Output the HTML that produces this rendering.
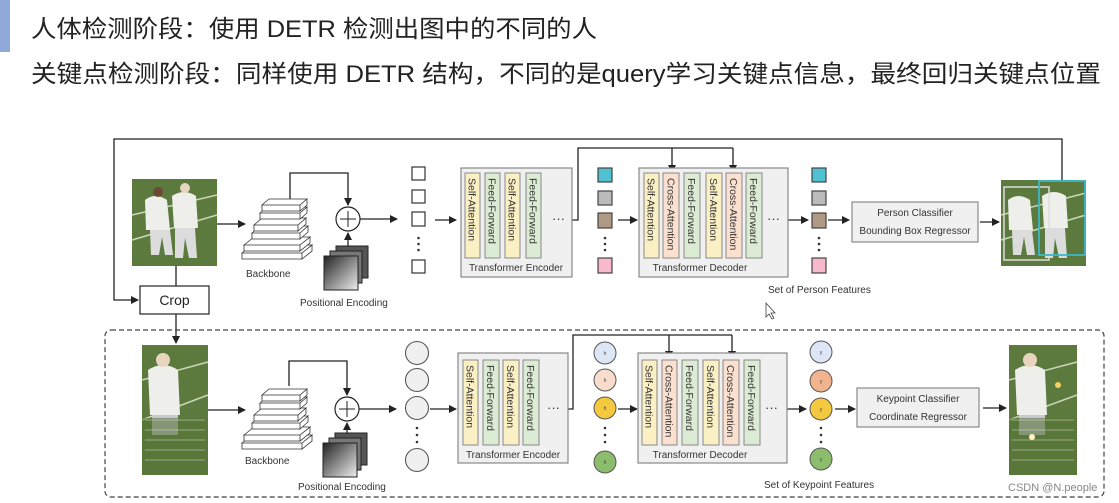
<!DOCTYPE html>
<html><head><meta charset="utf-8"><style>
html,body{margin:0;padding:0;background:#fff;}
svg{display:block;}
text{font-family:"Liberation Sans","Noto Sans CJK SC",sans-serif;}
.lb{font-size:10px;fill:#333;}
.bt{font-size:10.5px;fill:#333;}
</style></head><body>
<svg width="1119" height="503" viewBox="0 0 1119 503" xmlns="http://www.w3.org/2000/svg">
<defs>
<marker id="a" markerWidth="8" markerHeight="8" refX="7" refY="4" orient="auto" markerUnits="userSpaceOnUse"><path d="M0,0 L8,4 L0,8 z" fill="#222"/></marker>
<linearGradient id="pg" x1="0" y1="0" x2="1" y2="1"><stop offset="0" stop-color="#222"/><stop offset="1" stop-color="#eee"/></linearGradient>
<g id="bb">
<path d="M0,58 l10,-8 h60 l-10,8z M0,58 h60 v6 h-60z M60,58 l10,-8 v6 l-10,8z" fill="#fff" stroke="#333" stroke-width="0.8"/>
<path d="M2,50 l10,-8 h56 l-10,8z M2,50 h56 v6 h-56z M58,50 l10,-8 v6 l-10,8z" fill="#fff" stroke="#333" stroke-width="0.8"/>
<path d="M10,38 l8,-7 h48 l-8,7z M10,38 h48 v6 h-48z M58,38 l8,-7 v6 l-8,7z" fill="#fff" stroke="#333" stroke-width="0.8"/>
<path d="M12,30 l8,-7 h44 l-8,7z M12,30 h44 v6 h-44z M56,30 l8,-7 v6 l-8,7z" fill="#fff" stroke="#333" stroke-width="0.8"/>
<path d="M18,18 l7,-6 h40 l-7,6z M18,18 h40 v6 h-40z M58,18 l7,-6 v6 l-7,6z" fill="#fff" stroke="#333" stroke-width="0.8"/>
<path d="M20,10 l7,-6 h38 l-7,6z M20,10 h38 v6 h-38z M58,10 l7,-6 v6 l-7,6z" fill="#fff" stroke="#333" stroke-width="0.8"/>
</g>
<g id="pe">
<rect x="12" y="0" width="32" height="32" fill="#555" stroke="#222"/>
<rect x="6" y="5" width="32" height="32" fill="#777" stroke="#222"/>
<rect x="0" y="10" width="34" height="34" fill="url(#pg)" stroke="#222"/>
</g>
</defs>

<!-- header -->
<rect x="0" y="0" width="10" height="52" fill="#8fa9d8"/>
<text x="31" y="37" font-size="24" fill="#222" textLength="566" lengthAdjust="spacingAndGlyphs">人体检测阶段：使用 DETR 检测出图中的不同的人</text>
<text x="31" y="82" font-size="24" fill="#222" textLength="1070" lengthAdjust="spacingAndGlyphs">关键点检测阶段：同样使用 DETR 结构，不同的是query学习关键点信息，最终回归关键点位置</text>

<g stroke="#222" stroke-width="1.3" fill="none">
<!-- top outer loop -->
<polyline points="1062,180 1062,139 114,139 114,300 138,300" marker-end="url(#a)"/>
<line x1="176" y1="266" x2="176" y2="286"/>
<line x1="176" y1="314" x2="176" y2="343" marker-end="url(#a)"/>
<line x1="217" y1="224" x2="245" y2="224" marker-end="url(#a)"/>
<polyline points="290,200 290,173 348,173 348,205" marker-end="url(#a)"/>
<line x1="348" y1="246" x2="348" y2="233" marker-end="url(#a)"/>
<line x1="360" y1="219" x2="397" y2="219" marker-end="url(#a)"/>
<line x1="435" y1="220" x2="456" y2="220" marker-end="url(#a)"/>
<polyline points="572,220 578,220 578,148 733,148"/>
<line x1="672" y1="148" x2="672" y2="172" marker-end="url(#a)"/>
<line x1="733" y1="148" x2="733" y2="172" marker-end="url(#a)"/>
<line x1="618" y1="220" x2="637" y2="220" marker-end="url(#a)"/>
<line x1="788" y1="220" x2="808" y2="220" marker-end="url(#a)"/>
<line x1="828" y1="220" x2="849" y2="220" marker-end="url(#a)"/>
<line x1="980" y1="222" x2="999" y2="222" marker-end="url(#a)"/>
<!-- bottom -->
<line x1="207" y1="410" x2="245" y2="410" marker-end="url(#a)"/>
<polyline points="289,386 289,361 347,361 347,395" marker-end="url(#a)"/>
<line x1="347" y1="433" x2="347" y2="423" marker-end="url(#a)"/>
<line x1="358" y1="409" x2="396" y2="409" marker-end="url(#a)"/>
<line x1="430" y1="409" x2="456" y2="409" marker-end="url(#a)"/>
<polyline points="568,409 573,409 573,335 732,335"/>
<line x1="669" y1="335" x2="669" y2="358" marker-end="url(#a)"/>
<line x1="732" y1="335" x2="732" y2="358" marker-end="url(#a)"/>
<line x1="618" y1="409" x2="637" y2="409" marker-end="url(#a)"/>
<line x1="787" y1="409" x2="806" y2="409" marker-end="url(#a)"/>
<line x1="835" y1="409" x2="855" y2="409" marker-end="url(#a)"/>
<line x1="983" y1="408" x2="1006" y2="408" marker-end="url(#a)"/>
</g>

<!-- dashed box -->
<rect x="105" y="330" width="999" height="167" rx="6" fill="none" stroke="#444" stroke-width="1.2" stroke-dasharray="5,3"/>

<!-- crop -->
<rect x="140" y="286" width="69" height="28" fill="#fff" stroke="#222" stroke-width="1.2"/>
<text x="174.5" y="305" font-size="14" text-anchor="middle" fill="#222">Crop</text>

<!-- top image -->
<rect x="132" y="179" width="85" height="87" fill="#5c7a3e"/>
<path d="M132,215 L217,195 M132,240 L217,215" stroke="#c9d6b8" stroke-width="1.5"/>
<path d="M145,200 q10,-8 22,0 l3,30 h-24z M172,196 q12,-8 24,0 l2,32 h-24z" fill="#eeeeea"/>
<path d="M150,230 h20 l3,25 h-8 l-3,-18 -3,18 h-8z M175,228 h20 l2,30 h-8 l-4,-20 -2,20 h-8z" fill="#dcdcdc"/>
<circle cx="158" cy="192" r="5" fill="#6b4a35"/><circle cx="185" cy="188" r="5" fill="#e8d5c0"/>

<!-- top result image -->
<rect x="1001" y="180" width="85" height="86" fill="#5c7a3e"/>
<path d="M1001,215 L1086,193 M1001,240 L1086,215" stroke="#c9d6b8" stroke-width="1.5"/>
<path d="M1008,200 q10,-8 22,0 l3,30 h-24z M1042,196 q12,-8 24,0 l2,32 h-24z" fill="#eeeeea"/>
<path d="M1012,230 h20 l3,25 h-8 l-3,-18 -3,18 h-8z M1045,228 h20 l2,30 h-8 l-4,-20 -2,20 h-8z" fill="#dcdcdc"/>
<rect x="1004" y="187" width="45" height="73" fill="none" stroke="#ddd" stroke-width="1.5"/>
<rect x="1039" y="181" width="46" height="74" fill="none" stroke="#3bb8c8" stroke-width="1.8"/>

<!-- bottom image -->
<rect x="142" y="345" width="66" height="130" fill="#5c7a3e"/>
<path d="M142,380 L208,362 M142,420 L208,395" stroke="#c9d6b8" stroke-width="1.5"/>
<path d="M148,370 q15,-10 30,0 l2,45 h-30z" fill="#eeeeea"/>
<rect x="152" y="415" width="26" height="20" fill="#c8c8d0"/>
<circle cx="163" cy="360" r="7" fill="#e8d5c0"/>
<rect x="142" y="418" width="66" height="57" fill="#587538" opacity="0.6"/>
<path d="M145,420h60M145,430h60M145,440h60M145,450h60M145,460h60" stroke="#ddd" stroke-width="0.5"/>

<rect x="1009" y="345" width="68" height="130" fill="#5c7a3e"/>
<path d="M1009,380 L1077,362 M1009,420 L1077,395" stroke="#c9d6b8" stroke-width="1.5"/>
<path d="M1015,370 q15,-10 30,0 l2,45 h-30z" fill="#eeeeea"/>
<rect x="1019" y="415" width="26" height="20" fill="#c8c8d0"/>
<circle cx="1030" cy="360" r="7" fill="#e8d5c0"/>
<rect x="1009" y="418" width="68" height="57" fill="#587538" opacity="0.6"/>
<path d="M1012,420h62M1012,430h62M1012,440h62M1012,450h62M1012,460h62" stroke="#ddd" stroke-width="0.5"/>
<circle cx="1058" cy="385" r="3" fill="#f5d060"/><circle cx="1032" cy="437" r="3" fill="#fff6c0"/>

<!-- backbones / pe -->
<use href="#bb" x="242" y="195"/>
<use href="#bb" x="242" y="385"/>
<use href="#pe" x="324" y="246"/>
<use href="#pe" x="323" y="433"/>
<g fill="#fff" stroke="#222" stroke-width="1.2">
<circle cx="348" cy="219" r="12"/><circle cx="347" cy="409" r="12"/>
</g>
<path d="M340,219h16M348,211v16M339,409h16M347,401v16" stroke="#222" stroke-width="1"/>
<text x="246" y="277" class="lb">Backbone</text>
<text x="300" y="306" class="lb">Positional Encoding</text>
<text x="245" y="464" class="lb">Backbone</text>
<text x="298" y="490" class="lb">Positional Encoding</text>

<!-- top tokens -->
<g fill="#fff" stroke="#333" stroke-width="1.2">
<rect x="412" y="167" width="13" height="13"/><rect x="412" y="190" width="13" height="13"/><rect x="412" y="212" width="13" height="14"/><rect x="412" y="260" width="13" height="13"/>
</g>
<g fill="#333"><circle cx="418.5" cy="238" r="1.3"/><circle cx="418.5" cy="244" r="1.3"/><circle cx="418.5" cy="250" r="1.3"/></g>

<g stroke="#444" stroke-width="1.2">
<rect x="598" y="168" width="14" height="14" fill="#4fc1d1"/><rect x="598" y="191" width="14" height="14" fill="#bbb"/><rect x="598" y="213" width="14" height="15" fill="#b09a85"/><rect x="598" y="258" width="14" height="15" fill="#f7b9cb"/>
<rect x="812" y="168" width="14" height="14" fill="#4fc1d1"/><rect x="812" y="191" width="14" height="14" fill="#bbb"/><rect x="812" y="213" width="14" height="15" fill="#b09a85"/><rect x="812" y="258" width="14" height="15" fill="#f7b9cb"/>
</g>
<g fill="#333"><circle cx="605" cy="238" r="1.3"/><circle cx="605" cy="244" r="1.3"/><circle cx="605" cy="250" r="1.3"/>
<circle cx="819" cy="238" r="1.3"/><circle cx="819" cy="244" r="1.3"/><circle cx="819" cy="250" r="1.3"/></g>

<!-- top encoder -->
<rect x="461" y="168" width="111" height="109" fill="#f0f0f0" stroke="#888" stroke-width="1.2"/>
<g stroke="#888" stroke-width="1">
<rect x="465" y="173" width="15" height="85" fill="#fbefc4"/><rect x="485" y="173" width="15" height="85" fill="#dcebd3"/>
<rect x="505" y="173" width="15" height="85" fill="#fbefc4"/><rect x="526" y="173" width="15" height="85" fill="#dcebd3"/>
</g>
<g class="bt">
<text transform="translate(468.5,178) rotate(90)" class="bt">Self-Attention</text>
<text transform="translate(488.5,178) rotate(90)" class="bt">Feed-Forward</text>
<text transform="translate(508.5,178) rotate(90)" class="bt">Self-Attention</text>
<text transform="translate(529.5,178) rotate(90)" class="bt">Feed-Forward</text>
</g>
<text x="552" y="223" font-size="13" fill="#333">···</text>
<text x="516" y="271" class="lb" text-anchor="middle" font-size="10.5">Transformer Encoder</text>

<!-- top decoder -->
<rect x="639" y="168" width="149" height="109" fill="#f0f0f0" stroke="#888" stroke-width="1.2"/>
<g stroke="#888" stroke-width="1">
<rect x="644" y="173" width="15" height="85" fill="#fbefc4"/><rect x="663" y="173" width="16" height="85" fill="#fbe0d0"/><rect x="684" y="173" width="16" height="85" fill="#dcebd3"/>
<rect x="706" y="173" width="16" height="85" fill="#fbefc4"/><rect x="726" y="173" width="16" height="85" fill="#fbe0d0"/><rect x="746" y="173" width="16" height="85" fill="#dcebd3"/>
</g>
<text transform="translate(647.5,178) rotate(90)" class="bt">Self-Attention</text>
<text transform="translate(667.5,178) rotate(90)" class="bt">Cross-Attention</text>
<text transform="translate(688,178) rotate(90)" class="bt">Feed-Forward</text>
<text transform="translate(710,178) rotate(90)" class="bt">Self-Attention</text>
<text transform="translate(730,178) rotate(90)" class="bt">Cross-Attention</text>
<text transform="translate(750,178) rotate(90)" class="bt">Feed-Forward</text>
<text x="767" y="223" font-size="13" fill="#333">···</text>
<text x="700" y="271" class="lb" text-anchor="middle" font-size="10.5">Transformer Decoder</text>

<rect x="852" y="202" width="126" height="40" fill="#f0f0f0" stroke="#888" stroke-width="1.2"/>
<text x="915" y="216" class="lb" text-anchor="middle">Person Classifier</text>
<text x="915" y="234" class="lb" text-anchor="middle">Bounding Box Regressor</text>
<text x="768" y="293" class="lb">Set of Person Features</text>
<path d="M766,303 l0,14 l3,-3 l3,5 l2,-1 l-3,-5 l4,0z" fill="#fff" stroke="#444" stroke-width="0.8"/>

<!-- bottom tokens -->
<g fill="#f0f0f0" stroke="#555" stroke-width="1.1">
<circle cx="417" cy="353" r="11.5"/><circle cx="417" cy="380" r="11.5"/><circle cx="417" cy="408" r="11.5"/><circle cx="417" cy="460" r="11.5"/>
</g>
<g fill="#333"><circle cx="417" cy="428" r="1.3"/><circle cx="417" cy="435" r="1.3"/><circle cx="417" cy="442" r="1.3"/>
<circle cx="605" cy="428" r="1.3"/><circle cx="605" cy="435" r="1.3"/><circle cx="605" cy="442" r="1.3"/>
<circle cx="821" cy="428" r="1.3"/><circle cx="821" cy="435" r="1.3"/><circle cx="821" cy="442" r="1.3"/></g>
<g stroke="#555" stroke-width="1">
<circle cx="605" cy="353" r="11" fill="#dce6f4"/><circle cx="605" cy="380" r="11" fill="#f8dccd"/><circle cx="605" cy="408" r="11" fill="#f5c93f"/><circle cx="605" cy="462" r="11" fill="#8cbd6c"/>
<circle cx="821" cy="352" r="11" fill="#dce6f4"/><circle cx="821" cy="381" r="11" fill="#f2b48f"/><circle cx="821" cy="409" r="11" fill="#f5c93f"/><circle cx="821" cy="459" r="11" fill="#8cbd6c"/>
</g>
<g font-size="5" fill="#444" text-anchor="middle">
<text x="605" y="355">h</text><text x="605" y="382">h</text><text x="605" y="410">h</text><text x="605" y="464">h</text>
<text x="821" y="354">y</text><text x="821" y="383">y</text><text x="821" y="411">y</text><text x="821" y="461">y</text>
</g>

<!-- bottom encoder -->
<rect x="458" y="353" width="110" height="110" fill="#f0f0f0" stroke="#888" stroke-width="1.2"/>
<g stroke="#888" stroke-width="1">
<rect x="463" y="360" width="15" height="85" fill="#fbefc4"/><rect x="483" y="360" width="16" height="85" fill="#dcebd3"/>
<rect x="503" y="360" width="16" height="85" fill="#fbefc4"/><rect x="523" y="360" width="16" height="85" fill="#dcebd3"/>
</g>
<text transform="translate(466.5,365) rotate(90)" class="bt">Self-Attention</text>
<text transform="translate(487,365) rotate(90)" class="bt">Feed-Forward</text>
<text transform="translate(507,365) rotate(90)" class="bt">Self-Attention</text>
<text transform="translate(527,365) rotate(90)" class="bt">Feed-Forward</text>
<text x="547" y="412" font-size="13" fill="#333">···</text>
<text x="513" y="458" class="lb" text-anchor="middle" font-size="10.5">Transformer Encoder</text>

<!-- bottom decoder -->
<rect x="638" y="353" width="149" height="110" fill="#f0f0f0" stroke="#888" stroke-width="1.2"/>
<g stroke="#888" stroke-width="1">
<rect x="642" y="360" width="15" height="85" fill="#fbefc4"/><rect x="662" y="360" width="15" height="85" fill="#fbe0d0"/><rect x="682" y="360" width="16" height="85" fill="#dcebd3"/>
<rect x="703" y="360" width="16" height="85" fill="#fbefc4"/><rect x="723" y="360" width="16" height="85" fill="#fbe0d0"/><rect x="744" y="360" width="16" height="85" fill="#dcebd3"/>
</g>
<text transform="translate(645.5,365) rotate(90)" class="bt">Self-Attention</text>
<text transform="translate(665.5,365) rotate(90)" class="bt">Cross-Attention</text>
<text transform="translate(686,365) rotate(90)" class="bt">Feed-Forward</text>
<text transform="translate(707,365) rotate(90)" class="bt">Self-Attention</text>
<text transform="translate(727,365) rotate(90)" class="bt">Cross-Attention</text>
<text transform="translate(748,365) rotate(90)" class="bt">Feed-Forward</text>
<text x="765" y="412" font-size="13" fill="#333">···</text>
<text x="700" y="458" class="lb" text-anchor="middle" font-size="10.5">Transformer Decoder</text>

<rect x="857" y="388" width="122" height="39" fill="#f0f0f0" stroke="#888" stroke-width="1.2"/>
<text x="918" y="402" class="lb" text-anchor="middle">Keypoint Classifier</text>
<text x="918" y="420" class="lb" text-anchor="middle">Coordinate Regressor</text>
<text x="764" y="488" class="lb">Set of Keypoint Features</text>
<text x="1008" y="491" font-size="11" fill="#888">CSDN @N.people</text>
</svg>
</body></html>
